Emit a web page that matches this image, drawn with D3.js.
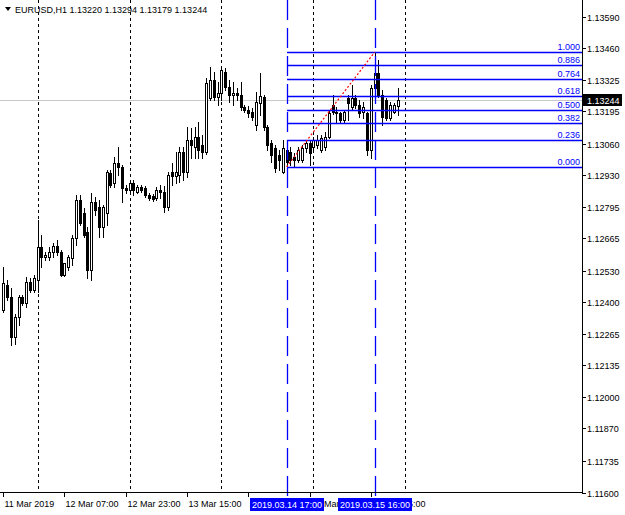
<!DOCTYPE html>
<html><head><meta charset="utf-8">
<script src="https://cdn.jsdelivr.net/npm/d3@7"></script>
<style>
html,body{margin:0;padding:0;background:#fff;}
svg text{font-family:"Liberation Sans",Arial,sans-serif;}
</style></head>
<body>
<svg id="c" width="625" height="515"></svg>
<script>
// ---- data (EURUSD H1, 11 Mar 2019 15:00 .. 15 Mar 2019 22:00) ----
const symbolTitle = "EURUSD,H1";
const lastOHLC = ["1.13220","1.13294","1.13179","1.13244"];
const opens  = [1.12365,1.12469,1.12419,1.12252,1.12336,1.12419,1.12394,1.12482,1.12449,1.12490,
                1.12628,1.12586,1.12586,1.12607,1.12632,1.12607,1.12511,1.12545,1.12582,1.12666,
                1.12825,1.12770,1.12691,1.12532,1.12816,1.12795,1.12712,1.12770,1.12938,1.12896,
                1.12979,1.12963,1.12875,1.12867,1.12896,1.12858,1.12879,1.12875,1.12846,1.12841,
                1.12833,1.12867,1.12858,1.12795,1.12942,1.12925,1.12929,1.13025,1.12942,1.13076,
                1.13046,1.13088,1.13055,1.13025,1.13251,1.13326,1.13255,1.13272,1.13360,1.13297,
                1.13264,1.13272,1.13264,1.13213,1.13201,1.13193,1.13138,1.13230,1.13255,1.13130,
                1.13063,1.13042,1.13013,1.12942,1.13034,1.13025,1.13004,1.12992,1.12992,1.13042,
                1.13063,1.13046,1.13055,1.13034,1.13046,1.13088,1.13222,1.13193,1.13188,1.13159,
                1.13251,1.13213,1.13251,1.13222,1.13193,1.13188,1.13034,1.13293,1.13356,1.13264,
                1.13243,1.13167,1.13193,1.13220];
const highs  = [1.12545,1.12490,1.12457,1.12348,1.12428,1.12428,1.12503,1.12499,1.12511,1.12741,
                1.12678,1.12607,1.12628,1.12645,1.12658,1.12616,1.12561,1.12595,1.12678,1.12846,
                1.12846,1.12791,1.12712,1.12854,1.12837,1.12825,1.12804,1.12950,1.12950,1.13004,
                1.13046,1.12971,1.12887,1.12904,1.12908,1.12887,1.12887,1.12883,1.12854,1.12850,
                1.12879,1.12887,1.12883,1.12942,1.12979,1.13025,1.13046,1.13046,1.13130,1.13126,
                1.13130,1.13151,1.13096,1.13335,1.13381,1.13360,1.13318,1.13381,1.13377,1.13326,
                1.13318,1.13293,1.13318,1.13222,1.13218,1.13209,1.13276,1.13356,1.13264,1.13138,
                1.13076,1.13055,1.13034,1.13076,1.13042,1.13046,1.13021,1.13046,1.13055,1.13076,
                1.13076,1.13088,1.13096,1.13096,1.13109,1.13201,1.13264,1.13213,1.13193,1.13201,
                1.13264,1.13305,1.13264,1.13243,1.13234,1.13193,1.13305,1.13443,1.13410,1.13285,
                1.13251,1.13234,1.13230,1.13294];
const lows   = [1.12357,1.12407,1.12219,1.12223,1.12302,1.12386,1.12377,1.12440,1.12440,1.12440,
                1.12545,1.12574,1.12574,1.12586,1.12595,1.12507,1.12507,1.12532,1.12553,1.12637,
                1.12720,1.12670,1.12499,1.12490,1.12762,1.12670,1.12670,1.12720,1.12879,1.12879,
                1.12929,1.12816,1.12854,1.12858,1.12846,1.12854,1.12858,1.12837,1.12825,1.12821,
                1.12825,1.12833,1.12775,1.12783,1.12887,1.12896,1.12900,1.12908,1.12921,1.13000,
                1.13000,1.13000,1.13000,1.13017,1.13243,1.13243,1.13222,1.13243,1.13285,1.13234,
                1.13222,1.13243,1.13201,1.13193,1.13172,1.13159,1.13117,1.13180,1.13117,1.13034,
                1.12984,1.12942,1.12950,1.12938,1.12963,1.12971,1.12967,1.12984,1.12984,1.13025,
                1.12971,1.13034,1.13042,1.13025,1.13034,1.13084,1.13184,1.13151,1.13151,1.13151,
                1.13159,1.13201,1.13209,1.13172,1.13167,1.13013,1.13000,1.13285,1.13255,1.13138,
                1.13159,1.13159,1.13188,1.13179];
const closes = [1.12478,1.12419,1.12252,1.12336,1.12419,1.12394,1.12482,1.12449,1.12499,1.12628,
                1.12586,1.12595,1.12607,1.12632,1.12607,1.12511,1.12561,1.12586,1.12666,1.12825,
                1.12729,1.12678,1.12532,1.12816,1.12783,1.12712,1.12795,1.12942,1.12887,1.12979,
                1.12963,1.12875,1.12867,1.12896,1.12867,1.12879,1.12867,1.12846,1.12833,1.12829,
                1.12867,1.12858,1.12795,1.12929,1.12925,1.12942,1.13025,1.12942,1.13076,1.13055,
                1.13088,1.13034,1.13025,1.13314,1.13326,1.13255,1.13272,1.13368,1.13297,1.13264,
                1.13272,1.13264,1.13213,1.13201,1.13188,1.13172,1.13234,1.13259,1.13130,1.13055,
                1.13013,1.12958,1.12992,1.13042,1.12984,1.12992,1.12992,1.13034,1.13042,1.13063,
                1.13021,1.13076,1.13076,1.13084,1.13088,1.13188,1.13193,1.13188,1.13159,1.13193,
                1.13230,1.13251,1.13222,1.13188,1.13213,1.13034,1.13293,1.13356,1.13264,1.13172,
                1.13167,1.13222,1.13222,1.13244];
const priceTicks = ["1.13590","1.13460","1.13325","1.13195","1.13060","1.12930","1.12795","1.12665",
                    "1.12530","1.12400","1.12265","1.12135","1.12000","1.11870","1.11735","1.11600"];
const timeTickIdx = [0,16,32,48,64,80,96];
const timeTickLabels = ["11 Mar 2019","12 Mar 07:00","12 Mar 23:00","13 Mar 15:00","14 Mar 07:00","14 Mar 23:00","15 Mar 15:00"];
const daySeparatorIdx = [9,33,57,81,105];
const fibLevels = [0,0.236,0.382,0.5,0.618,0.764,0.886,1];
const fibLabels = ["0.000","0.236","0.382","0.500","0.618","0.764","0.886","1.000"];
const fibFromIdx = 74, fibToIdx = 97;   // 2019.03.14 17:00 low -> 2019.03.15 16:00 high
const markerIdx = [74,97];
const markerLabels = ["2019.03.14 17:00","2019.03.15 16:00"];
const currentPrice = 1.13244;

// ---- layout ----
const svg = d3.select("#c");
const plotR = 582, plotB = 492;
const x = d3.scaleLinear().domain([0,103]).range([3.2,397.6]);
const y = d3.scaleLinear().domain([1.11600,1.13590]).range([493,17]);

const g = svg.append("g");

// day separators (dotted)
g.selectAll("line.sep").data(daySeparatorIdx).join("line")
  .attr("x1",d=>Math.round(x(d))+0.5).attr("x2",d=>Math.round(x(d))+0.5)
  .attr("y1",0).attr("y2",plotB)
  .attr("stroke","#000").attr("stroke-width",1).attr("stroke-dasharray","3,3");

// current price line
g.append("line").attr("x1",0).attr("x2",plotR).attr("y1",Math.round(y(currentPrice))+0.5).attr("y2",Math.round(y(currentPrice))+0.5)
  .attr("stroke","#c8c8c8").attr("stroke-width",1);

// candles
const data = opens.map((o,i)=>({i,o,h:highs[i],l:lows[i],c:closes[i]}));
const cg = g.append("g");
data.forEach(d=>{
  const cx = Math.round(x(d.i));
  cg.append("line").attr("x1",cx+0.5).attr("x2",cx+0.5)
    .attr("y1",Math.round(y(d.h))).attr("y2",Math.round(y(d.l))+1)
    .attr("stroke","#000").attr("stroke-width",1);
  const top = Math.round(y(Math.max(d.o,d.c))), bot = Math.round(y(Math.min(d.o,d.c)));
  if (d.c >= d.o) {
    cg.append("rect").attr("x",cx-0.5).attr("y",top+0.5).attr("width",2).attr("height",Math.max(bot-top,1))
      .attr("fill","#fff").attr("stroke","#000").attr("stroke-width",1);
  } else {
    cg.append("rect").attr("x",cx-1).attr("y",top).attr("width",3).attr("height",Math.max(bot-top+1,1))
      .attr("fill","#000");
  }
});

// fibonacci
const fLow = lows[fibFromIdx], fHigh = highs[fibToIdx];
const fx0 = Math.round(x(fibFromIdx));
fibLevels.forEach((lv,k)=>{
  const py = Math.round(y(fLow + lv*(fHigh-fLow)))+0.5;
  g.append("line").attr("x1",fx0).attr("x2",plotR).attr("y1",py).attr("y2",py)
    .attr("stroke","#0000ff").attr("stroke-width",1.3);
  g.append("text").attr("x",580).attr("y",py-2.5).attr("text-anchor","end")
    .attr("font-size","9px").attr("fill","#0000ff").text(fibLabels[k]);
});
g.append("line")
  .attr("x1",x(fibFromIdx)).attr("y1",y(fLow)).attr("x2",x(fibToIdx)).attr("y2",y(fHigh))
  .attr("stroke","#ff0000").attr("stroke-width",1.2).attr("stroke-dasharray","2,2");

// vertical markers
markerIdx.forEach(i=>{
  const mx = Math.round(x(i))+0.5;
  g.append("line").attr("x1",mx).attr("x2",mx).attr("y1",0).attr("y2",plotB+4)
    .attr("stroke","#0000ff").attr("stroke-width",1.3).attr("stroke-dasharray","20,8");
});

// axes frame
g.append("line").attr("x1",plotR+0.5).attr("x2",plotR+0.5).attr("y1",0).attr("y2",plotB+1).attr("stroke","#000");
g.append("line").attr("x1",0).attr("x2",plotR+1).attr("y1",plotB+0.5).attr("y2",plotB+0.5).attr("stroke","#000");

// price axis
const yAxis = g.append("g");
priceTicks.forEach(t=>{
  const py = Math.round(y(+t))+0.5;
  yAxis.append("line").attr("x1",plotR).attr("x2",plotR+4).attr("y1",py).attr("y2",py).attr("stroke","#000");
  yAxis.append("text").attr("x",587).attr("y",py+3.5).attr("font-size","9px").attr("fill","#000").text(t);
});
// current price tag
const cy = Math.round(y(currentPrice));
g.append("rect").attr("x",plotR+1).attr("y",cy-6).attr("width",39).attr("height",12).attr("fill","#000");
g.append("text").attr("x",587).attr("y",cy+3.5).attr("font-size","9px").attr("fill","#fff").text(currentPrice.toFixed(5));

// time axis
timeTickIdx.forEach((i,k)=>{
  const tx = Math.round(x(i))+0.5;
  g.append("line").attr("x1",tx).attr("x2",tx).attr("y1",plotB).attr("y2",plotB+5).attr("stroke","#000");
  g.append("text").attr("x",tx+1).attr("y",507).attr("font-size","9px").attr("fill","#000").text(timeTickLabels[k]);
});
markerIdx.forEach((i,k)=>{
  const mx = Math.round(x(i));
  g.append("rect").attr("x",mx-37).attr("y",498).attr("width",74).attr("height",13).attr("fill","#0000ff");
  g.append("text").attr("x",mx).attr("y",507.5).attr("text-anchor","middle").attr("font-size","9px").attr("fill","#fff").text(markerLabels[k]);
});

// title
g.append("path").attr("d","M5,7 L11,7 L8,11 Z").attr("fill","#000");
g.append("text").attr("x",15).attr("y",13).attr("font-size","9px").attr("fill","#000")
  .text(symbolTitle + "  " + lastOHLC.join(" "));
</script>
</body></html>
